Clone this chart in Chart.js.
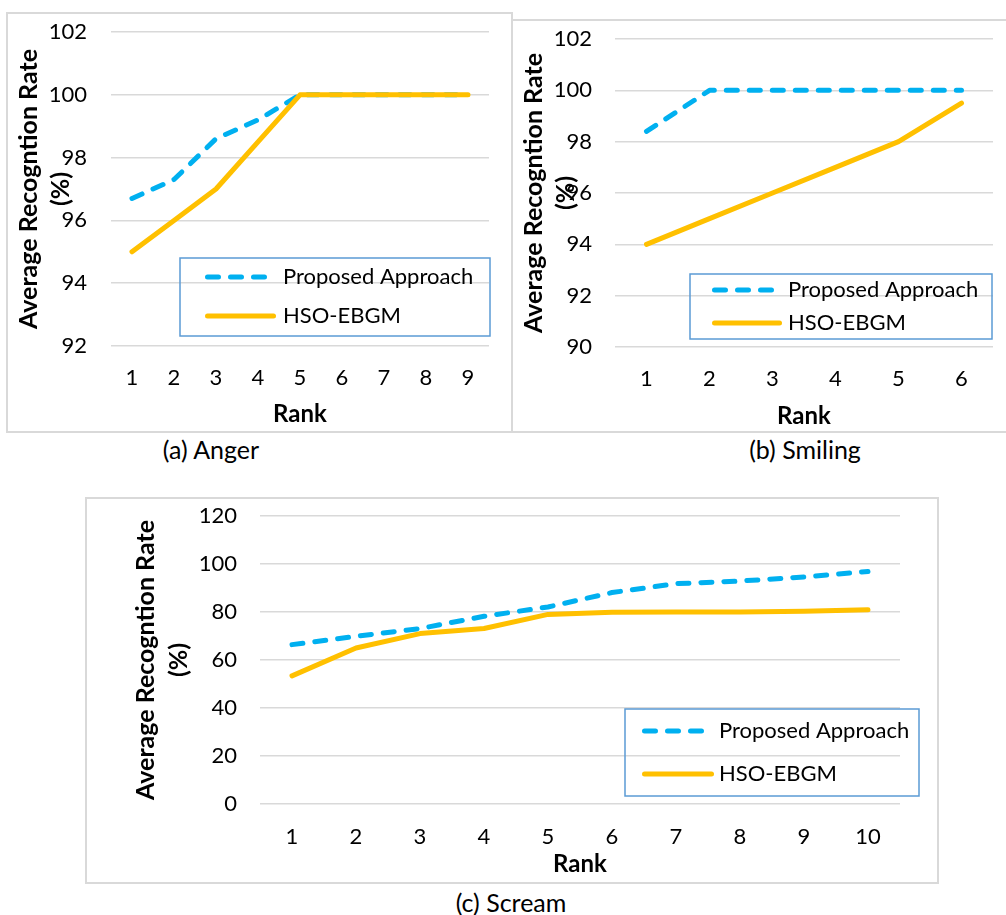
<!DOCTYPE html>
<html>
<head>
<meta charset="utf-8">
<script src="https://cdn.jsdelivr.net/npm/chart.js@4.4.1/dist/chart.umd.min.js"></script>
<style>
  html, body { margin: 0; padding: 0; background: #fff; }
  body { width: 1006px; height: 915px; position: relative; overflow: hidden; font-family: Lato, sans-serif; }
  .panel { position: absolute; border: 2px solid #d9d9d9; box-sizing: border-box; background: #fff; }
  .panel canvas { display: block; }
  .caption { position: absolute; font-size: 25px; color: #000; transform: translate(-50%, -50%); white-space: nowrap; }
</style>
</head>
<body>
<div class="panel" style="left:6px;top:12px;width:507px;height:421px"><canvas id="chartAnger" width="503" height="417"></canvas></div>
<div class="panel" style="left:511px;top:19px;width:507px;height:414px"><canvas id="chartSmiling" width="503" height="410"></canvas></div>
<div class="panel" style="left:85px;top:497px;width:854px;height:387px"><canvas id="chartScream" width="850" height="383"></canvas></div>
<div class="caption" style="left:211px;top:449px">(a) Anger</div>
<div class="caption" style="left:805px;top:449px">(b) Smiling</div>
<div class="caption" style="left:511px;top:902px">(c) Scream</div>

<script>
// Series and category data for the three recognition-rate panels
const seriesNames = ['Proposed Approach', 'HSO-EBGM'];
const yTitle = ['Average Recogntion Rate', '(%)'];
const xTitle = 'Rank';

const ranksAnger = ['1', '2', '3', '4', '5', '6', '7', '8', '9'];
const angerProposed = [96.7, 97.3, 98.6, 99.2, 100, 100, 100, 100, 100];
const angerHso = [95, 96, 97, 98.5, 100, 100, 100, 100, 100];

const ranksSmiling = ['1', '2', '3', '4', '5', '6'];
const smilingProposed = [98.4, 100, 100, 100, 100, 100];
const smilingHso = [94, 95, 96, 97, 98, 99.5];

const ranksScream = ['1', '2', '3', '4', '5', '6', '7', '8', '9', '10'];
const screamProposed = [66.4, 69.9, 73.1, 78.2, 82.1, 88.1, 91.8, 92.9, 94.6, 96.9];
const screamHso = [53.4, 65, 71, 73.1, 79, 79.9, 80, 80, 80.3, 80.9];

// Framed legend drawn inside the plot area
const boxLegend = {
  id: 'boxLegend',
  afterDatasetsDraw(chart, args, o) {
    const ctx = chart.ctx;
    ctx.save();
    ctx.strokeStyle = '#5b9bd5';
    ctx.lineWidth = 1.5;
    ctx.strokeRect(o.box[0], o.box[1], o.box[2], o.box[3]);
    chart.data.datasets.forEach((ds, i) => {
      const r = o.rows[i];
      ctx.beginPath();
      ctx.setLineDash(ds.borderDash || []);
      ctx.lineCap = 'round';
      ctx.lineWidth = ds.borderWidth;
      ctx.strokeStyle = ds.borderColor;
      ctx.moveTo(r.x1, r.y);
      ctx.lineTo(r.x2, r.y);
      ctx.stroke();
      ctx.setLineDash([]);
      ctx.fillStyle = '#000';
      ctx.font = '22px Lato';
      ctx.textBaseline = 'middle';
      ctx.textAlign = 'left';
      ctx.fillText(ds.label, o.textX, r.y);
    });
    ctx.restore();
  }
};

function makeChart(id, cats, proposed, hso, yRange, lay) {
  return new Chart(document.getElementById(id), {
    type: 'line',
    data: {
      labels: cats,
      datasets: [
        { label: seriesNames[0], data: proposed, borderColor: '#00b0f0', borderWidth: 5,
          borderDash: [11, 12], borderCapStyle: 'round', borderJoinStyle: 'round',
          pointRadius: 0, tension: 0, fill: false, order: 1 },
        { label: seriesNames[1], data: hso, borderColor: '#ffc000', borderWidth: 5,
          borderCapStyle: 'round', borderJoinStyle: 'round',
          pointRadius: 0, tension: 0, fill: false, order: 0 }
      ]
    },
    options: {
      responsive: false,
      animation: false,
      layout: { padding: { top: lay.top, right: lay.right, bottom: 0, left: 0 } },
      plugins: {
        legend: { display: false },
        tooltip: { enabled: false },
        boxLegend: lay.legend
      },
      scales: {
        x: {
          type: 'category',
          offset: true,
          grid: { display: false, drawTicks: false },
          border: { display: false },
          ticks: { color: '#000', font: { family: 'Lato', size: 22 }, padding: lay.xTickPad, maxRotation: 0 },
          title: { display: true, text: xTitle, color: '#000',
                   font: { family: 'Lato', size: 24, weight: 'bold', lineHeight: 1.2 },
                   padding: { top: 0, bottom: lay.xTitlePad } },
          afterFit: s => { s.height = lay.xHeight; }
        },
        y: {
          min: yRange[0], max: yRange[1],
          grid: { color: '#d9d9d9', lineWidth: 1.5, drawTicks: true, tickLength: lay.yTickGap, tickColor: 'rgba(0,0,0,0)' },
          border: { display: false },
          ticks: { stepSize: yRange[2], color: '#000', font: { family: 'Lato', size: 22 }, padding: 0 },
          title: { display: true, text: yTitle, color: '#000',
                   font: { family: 'Lato', size: 25, weight: 'bold', lineHeight: lay.yTitleLH },
                   padding: { top: lay.yTitlePad, bottom: 0 } },
          afterFit: s => { s.width = lay.yWidth; }
        }
      }
    },
    plugins: [boxLegend]
  });
}

function build() {
  makeChart('chartAnger', ranksAnger, angerProposed, angerHso, [92, 102, 2], {
    top: 18, right: 22, yWidth: 103, xHeight: 85, xTickPad: 19, xTitlePad: 2,
    yTickGap: 24, yTitlePad: 5, yTitleLH: 32 / 25,
    legend: { box: [172, 244, 310, 78], textX: 275,
              rows: [{ y: 263, x1: 199.5, x2: 265.5 }, { y: 302, x1: 199.5, x2: 265.5 }] }
  });
  makeChart('chartSmiling', ranksSmiling, smilingProposed, smilingHso, [90, 102, 2], {
    top: 18, right: 23, yWidth: 102, xHeight: 84, xTickPad: 19, xTitlePad: 0,
    yTickGap: 23, yTitlePad: 5, yTitleLH: 32 / 25,
    legend: { box: [177, 253, 302, 65], textX: 275,
              rows: [{ y: 269, x1: 201.5, x2: 267.5 }, { y: 302, x1: 201.5, x2: 266.5 }] }
  });
  makeChart('chartScream', ranksScream, screamProposed, screamHso, [0, 120, 20], {
    top: 17, right: 37, yWidth: 173, xHeight: 78, xTickPad: 20, xTitlePad: 3,
    yTickGap: 23, yTitlePad: 42, yTitleLH: 33 / 25,
    legend: { box: [538, 210, 294, 87], textX: 632,
              rows: [{ y: 232, x1: 557.5, x2: 618.5 }, { y: 275, x1: 557.5, x2: 624.5 }] }
  });
}

Promise.all([
  document.fonts.load('22px Lato'),
  document.fonts.load('bold 24px Lato')
]).then(build, build);
</script>
</body>
</html>
